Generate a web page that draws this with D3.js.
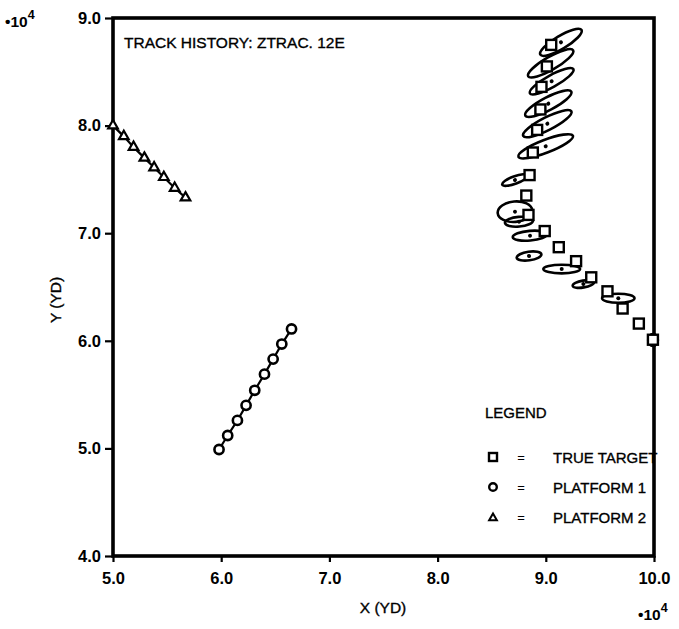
<!DOCTYPE html>
<html><head><meta charset="utf-8">
<script src="https://cdn.jsdelivr.net/npm/d3@7"></script>
<style>
body{margin:0;background:#fff}
svg text{font-family:"Liberation Sans",Arial,Helvetica,sans-serif;fill:#000}
</style>
</head><body><svg id="c" width="679" height="629"></svg>
<script>
// ---- data (units of 10^4 yd) ----
const xTicks = [5, 6, 7, 8, 9, 10];
const yTicks = [4, 5, 6, 7, 8, 9];

const targetX = [9.05, 9.01, 8.96, 8.95, 8.92, 8.88, 8.85, 8.82, 8.84, 8.99, 9.12, 9.28, 9.42, 9.57, 9.71, 9.86, 9.99];
const targetY = [8.75, 8.55, 8.36, 8.15, 7.96, 7.75, 7.54, 7.35, 7.17, 7.02, 6.87, 6.74, 6.59, 6.46, 6.30, 6.16, 6.01];

const estX = [9.14, 9.045, 9.054, 9.023, 9.014, 8.999, 8.715, 8.715, 8.752, 8.854, 8.845, 9.147, 9.347, 9.670, 9.991];
const estY = [8.774, 8.579, 8.412, 8.204, 8.018, 7.808, 7.494, 7.200, 7.107, 6.977, 6.788, 6.667, 6.528, 6.395, 6.007];
const estMajor = [0.222, 0.24, 0.23, 0.24, 0.25, 0.27, 0.125, 0.16, 0.13, 0.16, 0.115, 0.17, 0.10, 0.15, 0.045];
const estMinor = [0.06, 0.06, 0.055, 0.06, 0.06, 0.06, 0.035, 0.095, 0.045, 0.045, 0.04, 0.04, 0.032, 0.042, 0.055];
const estAngle = [31, 30, 29, 27.5, 27, 21, 20, 5, 5, 5, 8, 0, 10, 0, 0];

const p1X = [5.98, 6.06, 6.15, 6.23, 6.31, 6.40, 6.48, 6.56, 6.65];
const p1Y = [4.99, 5.12, 5.26, 5.40, 5.54, 5.69, 5.83, 5.97, 6.11];

const p2X = [5.00, 5.10, 5.19, 5.29, 5.38, 5.47, 5.57, 5.67];
const p2Y = [8.00, 7.90, 7.80, 7.70, 7.61, 7.52, 7.42, 7.33];

const titleText = "TRACK HISTORY:  ZTRAC. 12E";
const legendTitle = "LEGEND";
const legendLabels = ["TRUE TARGET", "PLATFORM 1", "PLATFORM 2"];

// ---- layout ----
const svg = d3.select("#c");
const L = 113, R = 654, T = 18, B = 556;
const x = d3.scaleLinear().domain([5, 10]).range([L, R]);
const y = d3.scaleLinear().domain([4, 9]).range([B, T]);

const ink = sel => sel.attr("stroke", "#000").attr("stroke-width", 0.35);

// axes
const yAxis = d3.axisLeft(y).tickValues(yTicks).tickFormat(d3.format(".1f")).tickSize(8).tickPadding(4);
const xAxis = d3.axisBottom(x).tickValues(xTicks).tickFormat(d3.format(".1f")).tickSize(6).tickPadding(10);

const gy = svg.append("g").attr("transform", `translate(${L},0)`).call(yAxis);
const gx = svg.append("g").attr("transform", `translate(0,${B})`).call(xAxis);
[gx, gy].forEach(g => {
  g.select(".domain").remove();
  g.selectAll(".tick line").attr("stroke", "#000").attr("stroke-width", 2.2);
  g.selectAll(".tick text").attr("font-size", 16.5).attr("font-weight", "bold")
    .style("font-family", '"Liberation Sans",Arial,sans-serif').attr("fill", "#000");
});

// frame
svg.append("rect").attr("x", L).attr("y", T).attr("width", R - L).attr("height", B - T)
  .attr("fill", "none").attr("stroke", "#000").attr("stroke-width", 3.6);

// exponent labels
function expLabel(xp, yp) {
  const t = svg.append("text").attr("x", xp).attr("y", yp).attr("font-size", 15.5).attr("font-weight", "bold");
  t.append("tspan").text("•10");
  t.append("tspan").attr("dy", -8).attr("font-size", 12.5).text("4");
}
expLabel(5, 27);
expLabel(638, 620);

// axis titles
ink(svg.append("text").attr("x", 383).attr("y", 613).attr("text-anchor", "middle").attr("font-size", 15.5).text("X (YD)"));
ink(svg.append("text").attr("transform", "translate(61,300) rotate(-90)").attr("text-anchor", "middle")
  .attr("font-size", 15.5).text("Y (YD)"));

// title
ink(svg.append("text").attr("x", 124).attr("y", 48).attr("font-size", 15.5).text(titleText));

// ellipses (estimates)
const pxU = x(6) - x(5), pyU = y(4) - y(5);
const est = estX.map((d, i) => ({x: d, y: estY[i], a: estMajor[i], b: estMinor[i], ang: estAngle[i]}));
const eg = svg.append("g");
est.forEach(e => {
  const g = eg.append("g").attr("transform", `translate(${x(e.x)},${y(e.y)}) rotate(${-e.ang})`);
  g.append("ellipse").attr("rx", e.a * pxU).attr("ry", e.b * pyU)
    .attr("fill", "none").attr("stroke", "#000").attr("stroke-width", 2.6);
  g.append("circle").attr("r", 2).attr("fill", "#000");
});

// true target squares
const tgt = targetX.map((d, i) => ({x: d, y: targetY[i]}));
svg.append("g").selectAll("rect").data(tgt).join("rect")
  .attr("x", d => x(d.x) - 5).attr("y", d => y(d.y) - 5).attr("width", 10).attr("height", 10)
  .attr("fill", "#fff").attr("stroke", "#000").attr("stroke-width", 2.4);

// platforms
const line = d3.line().x(d => x(d.x)).y(d => y(d.y));
const p1 = p1X.map((d, i) => ({x: d, y: p1Y[i]}));
const p2 = p2X.map((d, i) => ({x: d, y: p2Y[i]}));
svg.append("path").datum(p1).attr("d", line).attr("fill", "none").attr("stroke", "#000").attr("stroke-width", 2.2);
svg.append("path").datum(p2).attr("d", line).attr("fill", "none").attr("stroke", "#000").attr("stroke-width", 2.2);
svg.append("g").selectAll("circle").data(p1).join("circle")
  .attr("cx", d => x(d.x)).attr("cy", d => y(d.y)).attr("r", 4.6)
  .attr("fill", "#fff").attr("stroke", "#000").attr("stroke-width", 2.6);
svg.append("g").selectAll("path").data(p2).join("path")
  .attr("transform", d => `translate(${x(d.x)},${y(d.y)})`)
  .attr("d", d3.symbol(d3.symbolTriangle, 40))
  .attr("fill", "#fff").attr("stroke", "#000").attr("stroke-width", 2.2);

// legend
ink(svg.append("text").attr("x", 485).attr("y", 418).attr("font-size", 15).text(legendTitle));
const lg = svg.append("g");
legendLabels.forEach((lab, i) => {
  const cy = 457 + i * 30;
  if (i === 0) lg.append("rect").attr("x", 489).attr("y", cy - 4).attr("width", 8).attr("height", 8)
    .attr("fill", "none").attr("stroke", "#000").attr("stroke-width", 2.4);
  if (i === 1) lg.append("circle").attr("cx", 493).attr("cy", cy).attr("r", 3.8)
    .attr("fill", "none").attr("stroke", "#000").attr("stroke-width", 2.4);
  if (i === 2) lg.append("path").attr("transform", `translate(493,${cy + 1})`)
    .attr("d", d3.symbol(d3.symbolTriangle, 26)).attr("fill", "none").attr("stroke", "#000").attr("stroke-width", 2);
  lg.append("text").attr("x", 521).attr("y", cy + 5).attr("text-anchor", "middle").attr("font-size", 13).text("=");
  ink(lg.append("text").attr("x", 553).attr("y", cy + 6).attr("font-size", 15).text(lab));
});
</script></body></html>
